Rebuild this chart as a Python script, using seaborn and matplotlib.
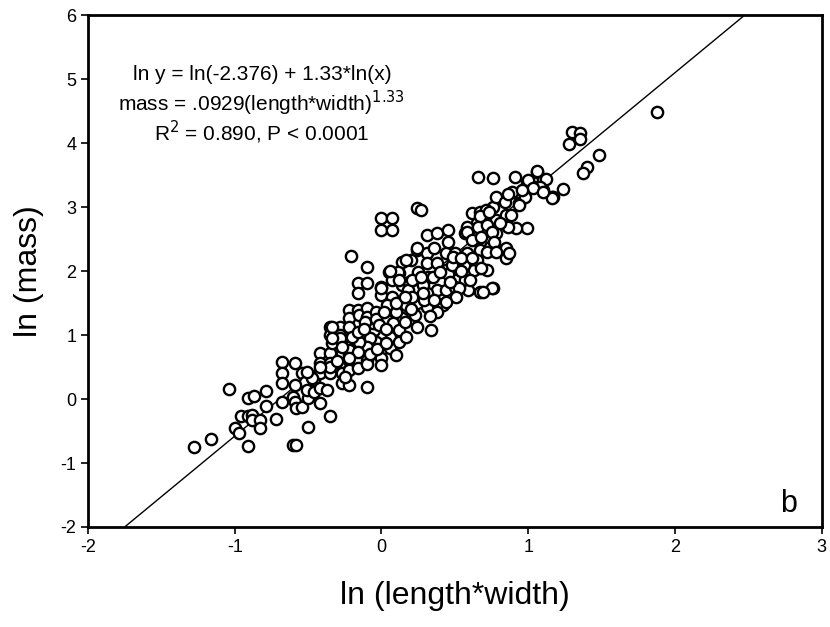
import matplotlib as mpl
mpl.use('Agg')
import matplotlib.pyplot as plt
import seaborn as sns
import numpy as np
import pandas as pd

sns.set_style('white')
plt.rcParams['font.family'] = ['Liberation Sans', 'DejaVu Sans']
plt.rcParams['axes.unicode_minus'] = False
plt.rcParams['text.color'] = 'black'
plt.rcParams['axes.labelcolor'] = 'black'

# ln(length*width), ln(mass)
lower_pts = [
    (-1.28, -0.75), (-1.16, -0.63), (-1.04, 0.16), (-0.91, -0.73), (-1.0, -0.45), (-0.97, -0.53),
    (-0.96, -0.27), (-0.91, -0.27), (-0.88, -0.25), (-0.88, -0.33), (-0.83, -0.33), (-0.83, -0.45),
    (-0.91, 0.02), (-0.87, 0.05), (-0.79, 0.12), (-0.79, -0.11), (-0.72, -0.31), (-0.68, -0.05),
    (-0.68, 0.58), (-0.68, 0.41), (-0.68, 0.25), (-0.59, 0.56), (-0.54, 0.41), (-0.52, 0.27),
    (-0.59, 0.22), (-0.60, 0.03), (-0.59, -0.05), (-0.58, -0.14), (-0.54, -0.13), (-0.50, 0.02),
    (-0.51, 0.14), (-0.46, 0.30), (-0.46, 0.11), (-0.42, -0.06), (-0.42, 0.17), (-0.37, 0.14),
    (-0.35, -0.27), (-0.50, -0.44), (-0.60, -0.72), (-0.58, -0.72), (-0.42, 0.72), (-0.42, 0.56),
    (-0.42, 0.41), (-0.35, 0.72), (-0.35, 0.56), (-0.35, 0.41), (-0.34, 0.97), (-0.34, 0.88),
    (-0.27, 0.89), (-0.27, 0.72), (-0.28, 0.56), (-0.27, 0.41), (-0.27, 0.25), (-0.22, 0.22),
    (-0.22, 0.69), (-0.20, 0.56), (-0.19, 0.97), (-0.23, 0.81), (-0.47, 0.33), (-0.35, 1.13),
    (-0.35, 1.0), (-0.28, 1.13), (-0.28, 1.0), (-0.22, 1.39), (-0.22, 1.27), (-0.22, 1.13),
    (-0.22, 0.77), (-0.22, 0.61), (-0.22, 0.45), (-0.35, 0.5), (-0.16, 1.39),
    (-0.28, 0.95), (-0.30, 0.60), (-0.25, 0.35), (-0.15, 0.60),
]
middle_pts = [
    (-0.21, 2.23), (-0.10, 2.06), (-0.16, 1.81), (-0.10, 1.81), (-0.16, 1.66), (-0.15, 1.31),
    (-0.10, 1.42), (-0.10, 1.28), (-0.04, 1.36), (0.0, 1.75), (0.0, 1.63), (0.05, 1.98),
    (0.07, 1.86), (0.12, 1.97), (0.14, 1.78), (0.14, 2.14), (0.20, 2.17), (0.19, 1.83),
    (0.24, 2.33), (0.25, 1.98), (0.31, 2.28), (0.31, 2.12), (0.32, 1.91), (0.36, 2.36),
    (0.38, 2.13), (0.44, 2.28), (0.44, 2.02), (0.50, 2.28), (0.51, 2.02), (0.51, 1.86),
    (0.58, 2.25), (0.57, 1.86), (0.59, 1.70), (0.63, 2.14), (0.63, 2.02), (0.38, 1.70),
    (0.42, 1.47), (0.38, 1.36), (0.31, 1.66), (0.31, 1.44), (0.24, 1.70), (0.24, 1.50),
    (0.23, 1.31), (0.24, 1.13), (0.34, 1.08), (0.17, 1.47), (0.14, 1.27), (0.10, 1.36),
    (0.07, 1.59), (0.04, 1.47), (0.04, 1.23), (0.08, 1.19), (0.06, 0.97), (0.0, 1.03),
    (-0.05, 1.08), (-0.04, 0.89), (-0.08, 0.95), (-0.10, 0.81), (-0.15, 0.89), (-0.16, 0.73),
    (-0.20, 0.97), (-0.22, 0.64), (-0.27, 0.81), (-0.34, 1.13), (-0.34, 0.95), (-0.42, 0.5),
    (-0.51, 0.42), (-0.10, 0.61), (-0.16, 0.48), (0.0, 0.64), (0.0, 0.53), (0.06, 0.80),
    (0.12, 0.89), (0.10, 0.69), (0.12, 1.08), (0.17, 0.97), (-0.06, 1.19), (-0.11, 1.20),
    (-0.10, 0.19), (-0.10, 0.55),
    (-0.16, 1.05), (-0.04, 1.25), (0.02, 1.36), (0.10, 1.50), (0.18, 1.70), (0.28, 1.78),
    (0.35, 1.90), (0.45, 1.95), (-0.12, 1.10), (-0.02, 1.15), (0.03, 1.10), (0.16, 1.20),
    (0.20, 1.40), (0.29, 1.55), (0.36, 1.55), (0.44, 1.70), (0.48, 2.10), (-0.08, 0.70),
    (-0.03, 0.78), (0.03, 0.88), (0.33, 1.30), (0.50, 1.75), (0.56, 2.10),
]
upper_pts = [
    (0.66, 3.47), (0.76, 3.45), (0.91, 3.47), (1.06, 3.55), (0.24, 2.98), (0.27, 2.95),
    (0.0, 2.83), (0.07, 2.83), (0.0, 2.64), (0.07, 2.64), (0.31, 2.56), (0.38, 2.59),
    (0.45, 2.64), (0.45, 2.45), (0.62, 2.91), (0.67, 2.92), (0.76, 3.0), (0.78, 3.16),
    (0.84, 3.08), (0.89, 3.23), (0.94, 3.06), (0.99, 3.39), (1.04, 3.31), (1.10, 3.42),
    (1.10, 3.27), (1.16, 3.16), (0.99, 2.67), (0.92, 2.67), (0.86, 2.69), (0.78, 2.80),
    (0.71, 2.95), (0.65, 2.75), (0.58, 2.69), (0.57, 2.59), (0.65, 2.53), (0.70, 2.61),
    (0.78, 2.59), (0.74, 2.38), (0.79, 2.33), (0.85, 2.36), (0.85, 2.20), (0.67, 2.33),
    (0.65, 2.17), (0.72, 2.02), (0.76, 1.73), (0.67, 1.67), (0.60, 1.86), (0.53, 1.73),
    (0.47, 1.83), (0.51, 1.59), (0.44, 1.52), (0.40, 1.98), (0.24, 2.36), (0.17, 2.17),
    (0.11, 1.98), (0.06, 2.0), (0.0, 1.73), (0.12, 1.86), (0.21, 1.86), (0.27, 1.91),
    (0.28, 1.66), (0.21, 1.59), (0.16, 1.59), (0.49, 2.22), (0.58, 2.28), (0.86, 3.20),
    (0.98, 3.16), (0.67, 2.86), (0.73, 2.92), (0.85, 2.88), (0.81, 2.75), (0.58, 2.61),
    (0.66, 2.69), (0.72, 2.72), (0.62, 2.48), (0.68, 2.53), (0.75, 2.61), (0.77, 2.45),
    (0.72, 2.30), (0.78, 2.30), (0.54, 2.20), (0.62, 2.20), (0.54, 2.0),
]
top_pts = [
    (1.88, 4.48), (1.30, 4.17), (1.35, 4.16), (1.35, 4.06), (1.28, 3.98), (1.48, 3.81),
    (1.40, 3.62), (1.37, 3.53), (1.24, 3.28), (1.17, 3.16), (1.16, 3.14), (1.06, 3.56),
    (1.0, 3.42), (1.12, 3.44), (1.08, 3.31), (1.03, 3.30), (1.10, 3.23), (0.96, 3.27),
    (0.94, 3.03), (0.88, 2.88), (0.87, 2.28), (0.68, 2.05), (0.75, 1.73), (0.69, 1.67),
]

# regression line as drawn
fit_slope = 1.893
fit_intercept = 1.313

eq_lines = ['ln y = ln(-2.376) + 1.33*ln(x)',
            'mass = .0929(length*width)$^{1.33}$',
            'R$^2$ = 0.890, P < 0.0001']

df = pd.DataFrame(lower_pts + middle_pts + upper_pts + top_pts, columns=['lnLW', 'lnmass'])

fig = plt.figure(figsize=(8.3, 6.27), dpi=100)
ax = fig.add_axes([0.106, 0.1595, 0.884, 0.8165])

xs = np.array([-2, 3])
ax.plot(xs, fit_intercept + fit_slope * xs, color='black', lw=1.0, zorder=1)

sns.scatterplot(data=df, x='lnLW', y='lnmass', ax=ax, marker='o', s=66,
                facecolor='white', edgecolor='black', linewidth=1.7, zorder=3)

ax.set_xlim(-2, 3)
ax.set_ylim(-2, 6)
ax.set_xticks(range(-2, 4))
ax.set_yticks(range(-2, 7))
ax.tick_params(axis='both', direction='out', length=5, width=1.2, labelsize=13,
               bottom=True, left=True, top=False, right=False, colors='black')
for sp in ax.spines.values():
    sp.set_visible(True)
    sp.set_color('black')
    sp.set_linewidth(2)

ax.set_xlabel('ln (length*width)', fontsize=23, labelpad=18)
ax.set_ylabel('ln (mass)', fontsize=23, labelpad=12)

for txt, yy in zip(eq_lines, [0.883, 0.828, 0.770]):
    ax.text(0.237, yy, txt, transform=ax.transAxes, ha='center', va='center', fontsize=15)

ax.text(0.955, 0.045, 'b', transform=ax.transAxes, ha='center', va='center', fontsize=22)

fig.savefig('out.png', dpi=100)
